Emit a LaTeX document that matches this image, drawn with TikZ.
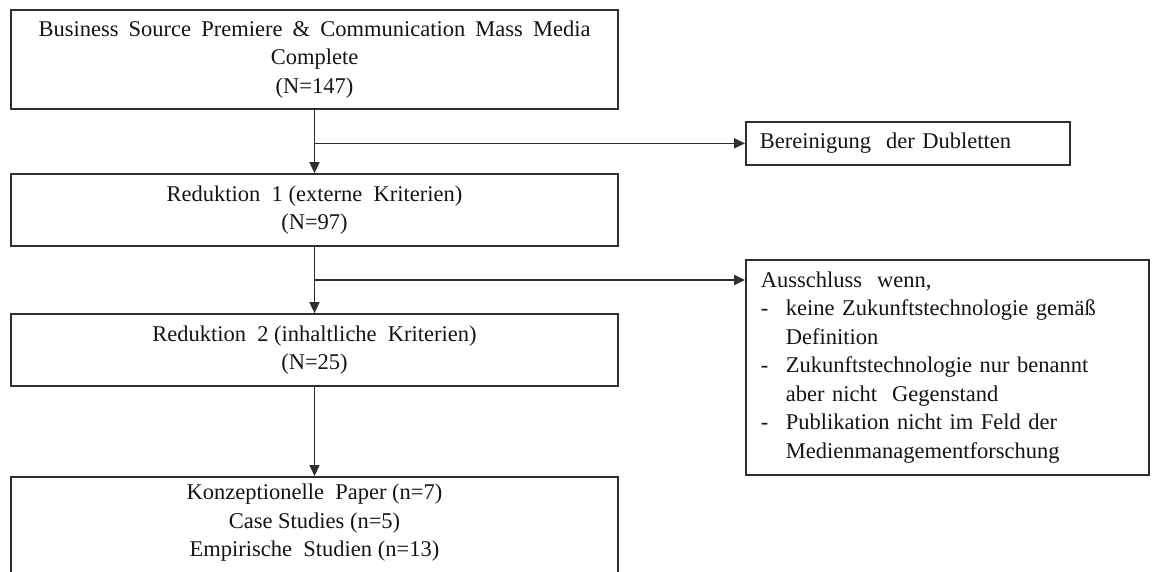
\documentclass[tikz,border=0pt]{standalone}
\usepackage{fontspec}
\setmainfont{Liberation Serif}
\usetikzlibrary{arrows.meta,calc}
\definecolor{ln}{HTML}{2E2E2E}
\definecolor{tx}{HTML}{141414}
\begin{document}
\begin{tikzpicture}[x=1pt,y=-1pt,
  box/.style={draw=ln, line width=1.7pt, text=tx, font=\fontsize{22.5}{28.5}\selectfont, align=center, inner sep=0pt},
  lbox/.style={draw=ln, line width=1.7pt, text=tx, font=\fontsize{22.5}{28.5}\selectfont, align=left, inner ysep=0pt},
  lbl/.style={text=tx, font=\fontsize{22.5}{28.5}\selectfont, align=center, inner sep=0pt},
  arr/.style={draw=ln, line width=1.6pt, -{Triangle[length=11pt,width=10pt]}}]
\useasboundingbox (0,0) rectangle (1156,572);
\node[box, minimum width=607pt, minimum height=99pt] (b1) at (314.5,59.5)
  {\makebox[552pt][s]{Business Source Premiere \& Communication Mass Media}\\Complete\\(N=147)};
\node[box, minimum width=607pt, minimum height=72pt] (b2) at (314.5,210)
  {Reduktion\ \ 1 (externe\ \ Kriterien)\\(N=97)};
\node[box, minimum width=607pt, minimum height=72pt] (b3) at (314.5,350)
  {Reduktion\ \ 2 (inhaltliche\ \ Kriterien)\\(N=25)};
\node[box, minimum width=607pt, minimum height=150pt, anchor=north] (b4) at (314.5,476) {};
\node[lbl] (t4) at (314.5,523)
  {Konzeptionelle\ \ Paper (n=7)\\Case Studies\ (n=5)\\Empirische\ \ Studien\ (n=13)};
\node[lbox, anchor=north west, text width=296pt, inner xsep=14pt, minimum height=43pt] (B) at (745,121)
  {Bereinigung\ \ der Dubletten};
\node[lbox, anchor=north west, text width=373pt, inner xsep=15pt, minimum height=215pt] (A) at (745,259)
  {Ausschluss\ \ wenn,\\
   \makebox[25pt][l]{-}\makebox[318pt][s]{keine Zukunftstechnologie gemäß}\\
   \hspace*{25pt}Definition\\
   \makebox[25pt][l]{-}\makebox[312pt][s]{Zukunftstechnologie nur benannt}\\
   \hspace*{25pt}aber nicht\ \ Gegenstand\\
   \makebox[25pt][l]{-}\makebox[316pt][s]{Publikation nicht im Feld der}\\
   \hspace*{25pt}Medienmanagementforschung};
\draw[arr] (b1.south) -- (b2.north);
\draw[arr] (b2.south) -- (b3.north);
\draw[arr] (b3.south) -- (b4.north);
\coordinate (j1) at (b1.south |- B.west);
\draw[arr] (j1) -- (B.west);
\coordinate (j2) at ($(b2.south)!0.5!(b3.north)$);
\draw[arr] (j2) -- (j2 -| A.west);
\end{tikzpicture}
\end{document}
